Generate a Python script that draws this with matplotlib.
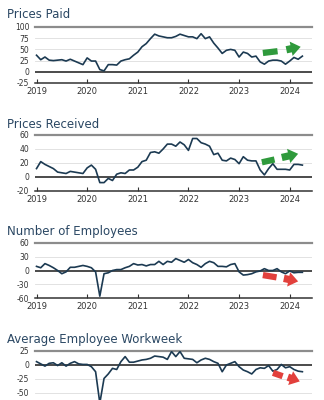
import matplotlib
matplotlib.use("Agg")
import matplotlib.pyplot as plt
import numpy as np

plt.rcParams['font.family'] = ['Liberation Sans Narrow', 'DejaVu Sans']

# monthly readings, Jan 2019 .. Apr 2024
months = 2019 + np.arange(64) / 12.0

prices_paid = [37, 27, 33, 26, 25, 26, 27, 24, 28, 24, 20, 16,
               31, 24, 24, 5, 2, 16, 16, 15, 24, 27, 29, 37,
               44, 56, 63, 74, 84, 80, 78, 76, 76, 79, 84, 81,
               78, 78, 74, 85, 74, 78, 64, 53, 41, 48, 50, 48,
               33, 44, 41, 33, 35, 22, 17, 24, 26, 26, 24, 17,
               24, 32, 28, 35]

prices_received = [12, 22, 18, 15, 12, 7, 6, 5, 8, 7, 6, 5,
                   13, 17, 11, -8, -8, -2, -5, 4, 6, 5, 10, 10,
                   14, 22, 24, 35, 36, 34, 40, 47, 47, 44, 50, 46,
                   38, 55, 55, 49, 47, 44, 32, 34, 24, 23, 27, 25,
                   19, 29, 24, 23, 23, 10, 3, 12, 19, 11, 11, 11,
                   10, 18, 18, 17]

employees = [9, 6, 15, 11, 6, 0, -7, -3, 7, 7, 9, 11,
             9, 6, -3, -56, -7, -5, 0, 2, 2, 6, 9, 15,
             12, 13, 10, 13, 13, 20, 13, 20, 18, 26, 22, 18,
             24, 17, 13, 7, 15, 20, 17, 9, 9, 8, 13, 15,
             -3, -10, -9, -7, -3, -1, 4, 0, 0, 4, -3, -7,
             -1, -5, -4, -4]

workweek = [6, 2, -2, 3, 4, -1, 4, -2, 3, 6, 2, 1,
            1, -3, -12, -68, -24, -16, -6, -8, 6, 15, 5, 5,
            7, 9, 10, 12, 16, 15, 14, 10, 24, 15, 24, 12,
            11, 10, 4, 9, 12, 10, 6, 3, -12, 0, 3, 6,
            -3, -9, -12, -16, -8, -5, -6, -1, -11, -8, 1, -5,
            -3, -8, -11, -12]

titles = ['Prices Paid', 'Prices Received', 'Number of Employees', 'Average Employee Workweek']
series = [prices_paid, prices_received, employees, workweek]
yticks = [[-25, 0, 25, 50, 75, 100], [-20, 0, 20, 40, 60],
          [-60, -30, 0, 30, 60], [-75, -50, -25, 0, 25]]
ylabels = [[str(v) for v in t] for t in yticks]
ylabels[3][0] = ''
years = list(range(2019, 2025))

# pixel layout (top, bottom of plot area, title centre)
boxes = [(27, 83, 15), (135, 191, 124), (243, 298, 232), (351, 407, 339)]

# arrow annotations: (dash start, dash end, arrow start, arrow end), colour
arrows = [(((2023.47, 42), (2023.76, 46), (2023.88, 48), (2024.27, 57)), '#2f9a3c'),
          (((2023.45, 21), (2023.70, 25), (2023.79, 27), (2024.22, 34)), '#2f9a3c'),
          (((2023.47, -10), (2023.74, -15), (2023.83, -16), (2024.22, -25)), '#e2403c'),
          (((2023.67, -14), (2023.86, -20), (2023.91, -20), (2024.25, -31)), '#e2403c')]

W, H = 324, 400
fig = plt.figure(figsize=(W / 100, H / 100), dpi=100)
fig.patch.set_facecolor('white')

line_col = '#1c3a52'
title_col = '#2a4763'

for i in range(4):
    top, bot, ty = boxes[i]
    ax = fig.add_axes([35 / W, 1 - bot / H, (312 - 35) / W, (bot - top) / H])
    ax.set_xlim(2018.97, 2024.44)
    ax.set_ylim(yticks[i][0], yticks[i][-1])
    for v in yticks[i][1:-1]:
        if v == 0:
            ax.axhline(0, color='#1a1a1a', lw=1.1, zorder=2)
        else:
            ax.axhline(v, color='#dddddd', lw=0.6, zorder=1)
    ax.axhline(yticks[i][-1], color='#8c8c8c', lw=1.6, zorder=1, clip_on=False)
    ax.plot(months, series[i], color=line_col, lw=1.2, zorder=3)

    (d0, d1, a0, a1), col = arrows[i]
    ax.plot([d0[0], d1[0]], [d0[1], d1[1]], color=col, lw=4.5, solid_capstyle='butt', zorder=4)
    ax.annotate('', xy=a1, xytext=a0,
                arrowprops=dict(arrowstyle='simple,head_width=1.5,head_length=1.0,tail_width=0.75',
                                color=col, lw=0, mutation_scale=7), zorder=4)

    for s in ['top', 'right', 'left']:
        ax.spines[s].set_visible(False)
    ax.spines['bottom'].set_color('#333333')
    ax.spines['bottom'].set_linewidth(1.1)

    ax.set_yticks(yticks[i])
    ax.set_yticklabels(ylabels[i])
    ax.set_xticks(years)
    ax.set_xticklabels([str(y) for y in years] if i < 3 else [''] * len(years))
    ax.tick_params(axis='y', length=0, pad=4, labelsize=5.5, labelcolor='#333333')
    ax.tick_params(axis='x', direction='in', length=3, width=0.8, color='#333333',
                   pad=3, labelsize=6, labelcolor='#333333')
    ax.patch.set_alpha(0)

    fig.text(7 / W, 1 - ty / H, titles[i], fontsize=8.5, color=title_col,
             va='center', ha='left')

fig.savefig('out.png', dpi=100, facecolor='white')
